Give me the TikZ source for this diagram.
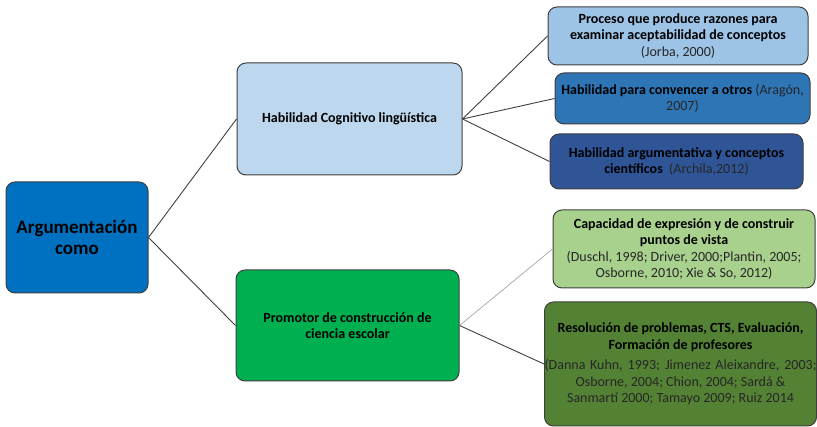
\documentclass[tikz,border=0pt]{standalone}
\usepackage{fontspec}
\setmainfont{Carlito}
\definecolor{bordc}{HTML}{3F3F3F}
\definecolor{linec}{HTML}{404040}
\definecolor{cRoot}{HTML}{0070C0}
\definecolor{cCog}{HTML}{BDD7EE}
\definecolor{cProm}{HTML}{00B050}
\definecolor{cProc}{HTML}{9DC3E6}
\definecolor{cConv}{HTML}{2E75B6}
\definecolor{cArgu}{HTML}{2F5597}
\definecolor{cCapa}{HTML}{A9D18E}
\definecolor{cReso}{HTML}{548235}
\definecolor{citec}{HTML}{262626}
\tikzset{
  box/.style={draw=bordc, line width=1pt, rounded corners=9pt, align=center, inner sep=0pt, text=black},
  conn/.style={draw=linec, line width=0.9pt},
  connlight/.style={draw=gray!70, line width=0.7pt},
  childtxt/.style={font=\fontsize{14}{16.6}\selectfont}
}
\newcommand{\refcite}[1]{{\mdseries\color{citec}#1}}
\begin{document}
\begin{tikzpicture}[x=1pt,y=-1pt]
\useasboundingbox (0,0) rectangle (817,427);
\node[box, fill=cRoot, minimum width=142pt, minimum height=111pt, font=\fontsize{19}{21}\selectfont\bfseries] (root) at (77,237.5) {Argumentación\\como};
\node[box, fill=cCog, minimum width=225pt, minimum height=112pt, font=\fontsize{14}{16}\selectfont\bfseries] (cog) at (349.5,119) {Habilidad Cognitivo lingüística};
\node[box, fill=cProm, minimum width=223pt, minimum height=111pt, font=\fontsize{14}{16.5}\selectfont\bfseries] (prom) at (347.5,325.5) {Promotor de construcción de\\ciencia escolar};
\node[box, fill=cProc, minimum width=260pt, minimum height=58pt, childtxt] (proc) at (678,36) {\textbf{Proceso que produce razones para}\\\textbf{examinar aceptabilidad de conceptos}\\\refcite{(Jorba, 2000)}};
\node[box, fill=cConv, minimum width=255pt, minimum height=51pt, childtxt] (conv) at (682.5,98.5) {\textbf{Habilidad para convencer a otros} \refcite{(Aragón,}\\\refcite{2007)}};
\node[box, fill=cArgu, minimum width=253pt, minimum height=55pt, childtxt] (argu) at (676.5,161.5) {\textbf{Habilidad argumentativa y conceptos}\\\textbf{científicos}\ \ \refcite{(Archila,2012)}};
\node[box, fill=cCapa, minimum width=262pt, minimum height=78pt, childtxt] (capa) at (684,249) {\textbf{Capacidad de expresión y de construir}\\\textbf{puntos de vista}\\\refcite{(Duschl, 1998; Driver, 2000;Plantin, 2005;}\\\refcite{Osborne, 2010; Xie \& So, 2012)}};
\node[box, fill=cReso, minimum width=269pt, minimum height=124pt, childtxt] (reso) at (680.5,364) {\textbf{Resolución de problemas, CTS, Evaluación,}\\\textbf{Formación de profesores}\\[4pt]\refcite{\makebox[272pt][s]{(Danna Kuhn, 1993; Jimenez Aleixandre, 2003;}}\\\refcite{Osborne, 2004; Chion, 2004; Sardá \&}\\\refcite{Sanmartí 2000; Tamayo 2009; Ruiz 2014}};
\draw[conn] (root.east) -- (cog.west);
\draw[conn] (root.east) -- (prom.west);
\draw[conn] (cog.east) -- (proc.west);
\draw[conn] (cog.east) -- (conv.west);
\draw[conn] (cog.east) -- (argu.west);
\draw[connlight] (prom.east) -- (capa.west);
\draw[conn] (prom.east) -- (reso.west);
\end{tikzpicture}
\end{document}
